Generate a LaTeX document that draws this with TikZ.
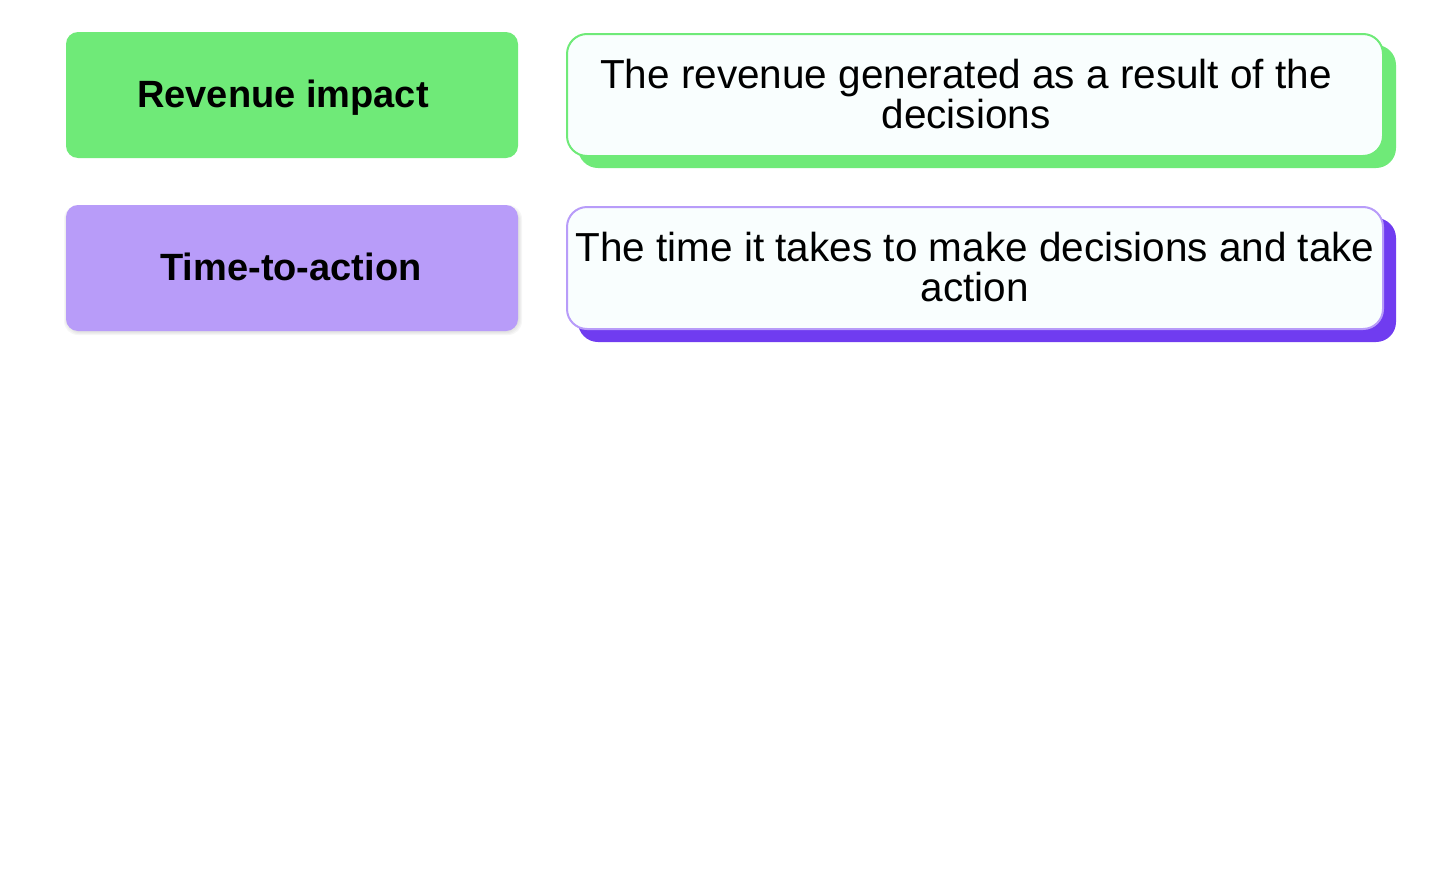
\documentclass[tikz,border=0pt]{standalone}
\usepackage{fontspec}
\setmainfont{Liberation Sans}
\definecolor{gfill}{RGB}{111,234,120}
\definecolor{pfill}{RGB}{184,156,249}
\definecolor{pdark}{RGB}{112,60,240}
\definecolor{wfill}{RGB}{249,254,254}
\definecolor{shd}{RGB}{180,180,180}
\begin{document}
\begin{tikzpicture}[x=1pt,y=-1pt,
  labelbox/.style={rounded corners=12pt},
  softshadow/.style={fill=shd, fill opacity=0.12, rounded corners=14pt},
  descbox/.style={rounded corners=20pt, line width=2pt, fill=wfill},
  labeltext/.style={font=\fontsize{38}{44}\selectfont\bfseries, inner sep=0pt, anchor=base},
  desctext/.style={font=\fontsize{40.5}{40}\selectfont, align=center, inner sep=0pt, anchor=base}]
\useasboundingbox (0,0) rectangle (1436,889);
% row 1
\fill[gfill,labelbox] (66,32) rectangle (518,158);
\node[labeltext] (l1) at (283,107) {Revenue impact};
\fill[gfill,rounded corners=20pt] (578,45) rectangle (1396,168);
\draw[gfill,descbox] (567,34) rectangle (1383,156);
\node[desctext] (d1) at (966,128) {The revenue generated as a result of the\\decisions};
% row 2
\fill[softshadow] (64,205) rectangle (522,335);
\fill[softshadow] (65,206) rectangle (521,334);
\fill[softshadow] (66,207) rectangle (520,333);
\fill[softshadow] (66,207) rectangle (519,332);
\fill[pfill,labelbox] (66,205) rectangle (518,331);
\node[labeltext] (l2) at (291,280) {Time-to-action};
\fill[pdark,rounded corners=20pt] (578,218) rectangle (1396,342);
\draw[pfill,descbox] (567,207) rectangle (1383,329);
\node[desctext] (d2) at (975,301) {The time it takes to make decisions and take\\action};
\end{tikzpicture}
\end{document}
